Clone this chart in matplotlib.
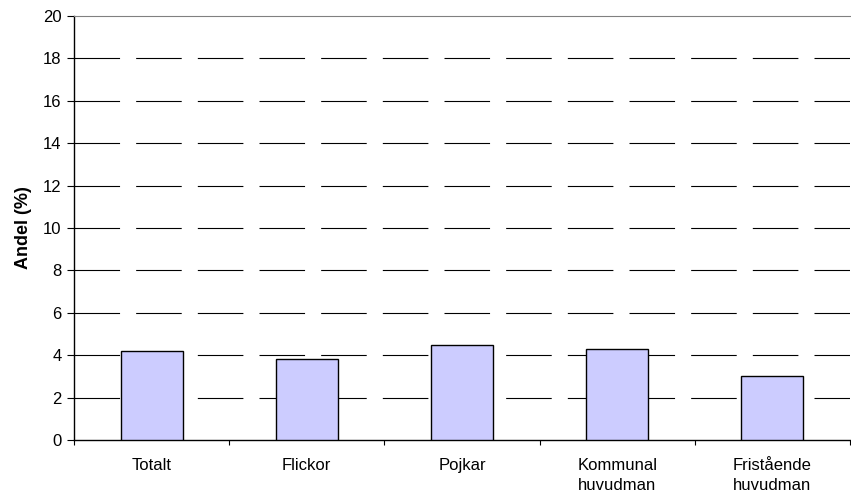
import matplotlib
matplotlib.use('Agg')
import matplotlib.pyplot as plt
import numpy as np

plt.rcParams['font.family'] = ['Liberation Sans', 'DejaVu Sans']

categories = ['Totalt', 'Flickor', 'Pojkar', 'Kommunal\nhuvudman', 'Fristående\nhuvudman']
values = [4.2, 3.8, 4.5, 4.3, 3.0]
y_ticks = [0, 2, 4, 6, 8, 10, 12, 14, 16, 18, 20]

fig = plt.figure(figsize=(8.51, 4.93), dpi=100)
ax = fig.add_axes([74 / 851, 1 - 440 / 493, 776 / 851, 424 / 493])

x = np.arange(len(categories))
ax.bar(x, values, width=0.4, color='#ccccff', edgecolor='black', linewidth=1.0, zorder=3)

ax.set_xlim(-0.5, len(categories) - 0.5)
ax.set_ylim(0, 20)
ax.set_yticks(y_ticks)

# dashed gridlines like the old excel chart
for yv in y_ticks[1:-1]:
    ax.axhline(yv, color='black', linewidth=0.8, dashes=(41, 14.5), zorder=1)

ax.set_xticks(np.arange(-0.5, len(categories)), minor=False)
ax.set_xticklabels([])
ax.set_xticks(x, minor=True)
ax.set_xticklabels(categories, minor=True, fontsize=12, linespacing=1.45)
ax.tick_params(axis='x', which='minor', length=0, pad=13)
ax.tick_params(axis='x', which='major', length=3.5, width=0.8, direction='out')
ax.tick_params(axis='y', length=5, width=0.8, labelsize=12, pad=4)

ax.spines['right'].set_visible(False)
ax.spines['top'].set_color('#808080')
ax.spines['top'].set_linewidth(0.8)
ax.spines['left'].set_linewidth(1.0)
ax.spines['bottom'].set_linewidth(1.0)

ax.set_ylabel('Andel (%)', fontsize=13, fontweight='bold', labelpad=8)

fig.savefig('out.png', dpi=100)
